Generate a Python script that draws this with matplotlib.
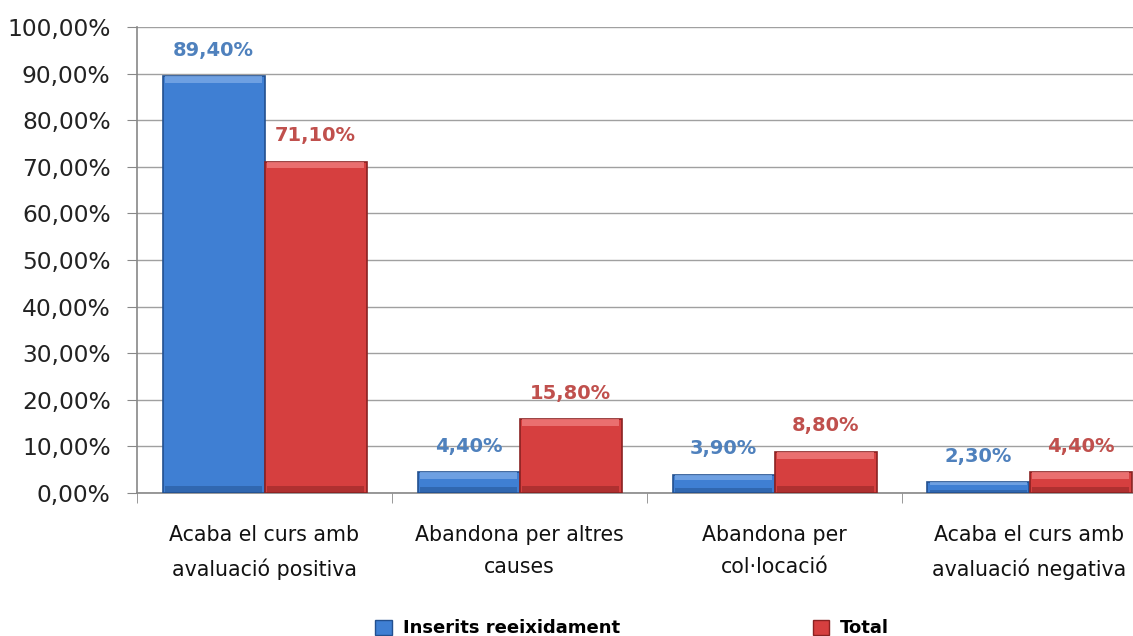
import matplotlib.pyplot as plt
import numpy as np
from matplotlib.patches import Patch

# Data
categories = ['Acaba el curs amb\navaluació positiva', 'Abandona per altres\ncauses',
              'Abandona per\ncol·locació', 'Acaba el curs amb\navaluació negativa']
inserits = [89.4, 4.4, 3.9, 2.3]
total = [71.1, 15.8, 8.8, 4.4]
series_names = ['Inserits reeixidament', 'Total']
yticks = np.arange(0, 101, 10)

blue, blue_dark, blue_light, blue_txt = '#3F7FD3', '#23508F', '#7AA9E6', '#4F81BD'
red, red_dark, red_light, red_txt = '#D63F3F', '#8A2222', '#F07C7C', '#C0504D'

fig = plt.figure(figsize=(11.33, 6.36), dpi=100)
ax = fig.add_axes([137 / 1133, 143 / 636, 1020 / 1133, 466 / 636])

x = np.arange(len(categories))
w = 0.4

def bevel_bars(xs, vals, face, dark, light):
    ax.bar(xs, vals, w, color=face, edgecolor=dark, linewidth=1.2, zorder=3)
    # light strip on top, dark strip at bottom for a bevel look
    band = [min(1.4, v * 0.3) for v in vals]
    ax.bar(xs, band, w * 0.96, bottom=[v - b for v, b in zip(vals, band)],
           color=light, linewidth=0, zorder=4, alpha=0.8)
    ax.bar(xs, band, w * 0.96, bottom=0, color=dark, linewidth=0, zorder=4, alpha=0.5)

bevel_bars(x - w / 2, inserits, blue, blue_dark, blue_light)
bevel_bars(x + w / 2, total, red, red_dark, red_light)

for xi, v in zip(x - w / 2, inserits):
    ax.annotate(f'{v:.2f}%'.replace('.', ','), (xi, v), xytext=(0, 12), textcoords='offset points',
                ha='center', va='bottom', color=blue_txt, fontsize=14, fontweight='bold')
for xi, v in zip(x + w / 2, total):
    ax.annotate(f'{v:.2f}%'.replace('.', ','), (xi, v), xytext=(0, 12), textcoords='offset points',
                ha='center', va='bottom', color=red_txt, fontsize=14, fontweight='bold')

ax.set_xlim(-0.5, len(categories) - 0.5)
ax.set_ylim(0, 100)
ax.set_yticks(yticks)
ax.set_yticklabels([f'{t:.2f}%'.replace('.', ',') for t in yticks], fontsize=16.8, color='#222222')
ax.set_xticks(x)
ax.set_xticklabels(categories, fontsize=14.8, color='#111111', linespacing=1.75)
ax.set_xticks(np.arange(-0.5, len(categories), 1), minor=True)
ax.tick_params(axis='x', which='major', length=0, pad=23)
ax.tick_params(axis='x', which='minor', length=7, color='#888888')
ax.tick_params(axis='y', length=7, color='#888888', pad=12)

ax.grid(axis='y', color='#A0A0A0', linewidth=1.0, zorder=0)
for s in ['top', 'right']:
    ax.spines[s].set_visible(False)
for s in ['left', 'bottom']:
    ax.spines[s].set_color('#888888')
    ax.spines[s].set_linewidth(1.2)

handles = [Patch(facecolor=blue, edgecolor=blue_dark), Patch(facecolor=red, edgecolor=red_dark)]
leg = fig.legend(handles, series_names, loc='center', bbox_to_anchor=(0.558, 0.012), ncol=2,
                 frameon=False, handlelength=0.9, handleheight=0.9, handletextpad=0.6,
                 columnspacing=10.7, prop={'size': 13, 'weight': 'bold'})

fig.savefig('out.png', dpi=100)
